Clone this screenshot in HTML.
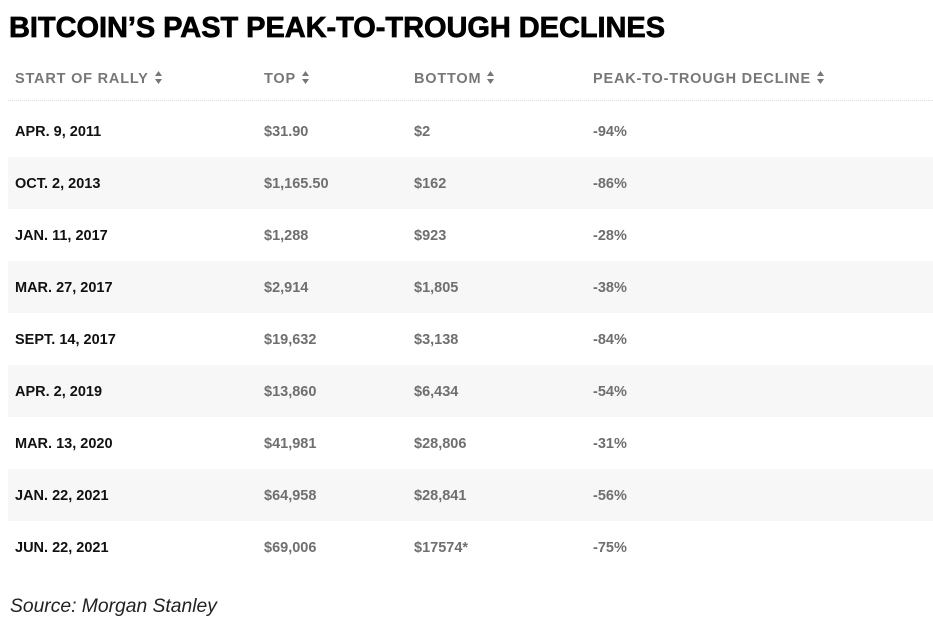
<!DOCTYPE html>
<html><head><meta charset="utf-8"><style>
body{margin:0;width:933px;height:629px;background:#fff;font-family:"Liberation Sans",sans-serif;position:relative;overflow:hidden}
h1{position:absolute;left:9px;top:10px;margin:0;font-size:29px;font-weight:900;letter-spacing:-0.05px;color:#000;line-height:36px;-webkit-text-stroke:0.7px #000}
.hd{position:absolute;top:70px;font-size:14.5px;font-weight:bold;color:#777;letter-spacing:0.8px;line-height:18px}
.ar{display:inline-block;margin-left:6px;vertical-align:-1px}
.hl{position:absolute;left:8px;width:925px;top:100px;border-top:1px dotted #ddd}
.row{position:absolute;left:8px;width:925px;height:52px}
.row.s{background:#f7f7f7}
.c{position:absolute;top:18px;font-size:14.5px;font-weight:bold;line-height:18px;color:#6f6f6f}
.c1{left:7px;color:#111}.c2{left:256px}.c3{left:406px}.c4{left:585px}
.src{position:absolute;left:10px;top:596px;font-size:19.3px;font-style:italic;color:#222}
</style></head><body>
<h1>BITCOIN’S PAST PEAK-TO-TROUGH DECLINES</h1>
<div class="hd" style="left:15px">START OF RALLY<svg class="ar" width="7" height="13" viewBox="0 0 7 13"><path d="M3.5 0L7 5H0Z M0 8H7L3.5 13Z" fill="#777"/></svg></div>
<div class="hd" style="left:264px">TOP<svg class="ar" width="7" height="13" viewBox="0 0 7 13"><path d="M3.5 0L7 5H0Z M0 8H7L3.5 13Z" fill="#777"/></svg></div>
<div class="hd" style="left:414px">BOTTOM<svg class="ar" width="7" height="13" viewBox="0 0 7 13"><path d="M3.5 0L7 5H0Z M0 8H7L3.5 13Z" fill="#777"/></svg></div>
<div class="hd" style="left:593px">PEAK-TO-TROUGH DECLINE<svg class="ar" width="7" height="13" viewBox="0 0 7 13"><path d="M3.5 0L7 5H0Z M0 8H7L3.5 13Z" fill="#777"/></svg></div>
<div class="hl"></div>
<div class="row" style="top:105px"><div class="c c1">APR. 9, 2011</div><div class="c c2">$31.90</div><div class="c c3">$2</div><div class="c c4">-94%</div></div>
<div class="row s" style="top:157px"><div class="c c1">OCT. 2, 2013</div><div class="c c2">$1,165.50</div><div class="c c3">$162</div><div class="c c4">-86%</div></div>
<div class="row" style="top:209px"><div class="c c1">JAN. 11, 2017</div><div class="c c2">$1,288</div><div class="c c3">$923</div><div class="c c4">-28%</div></div>
<div class="row s" style="top:261px"><div class="c c1">MAR. 27, 2017</div><div class="c c2">$2,914</div><div class="c c3">$1,805</div><div class="c c4">-38%</div></div>
<div class="row" style="top:313px"><div class="c c1">SEPT. 14, 2017</div><div class="c c2">$19,632</div><div class="c c3">$3,138</div><div class="c c4">-84%</div></div>
<div class="row s" style="top:365px"><div class="c c1">APR. 2, 2019</div><div class="c c2">$13,860</div><div class="c c3">$6,434</div><div class="c c4">-54%</div></div>
<div class="row" style="top:417px"><div class="c c1">MAR. 13, 2020</div><div class="c c2">$41,981</div><div class="c c3">$28,806</div><div class="c c4">-31%</div></div>
<div class="row s" style="top:469px"><div class="c c1">JAN. 22, 2021</div><div class="c c2">$64,958</div><div class="c c3">$28,841</div><div class="c c4">-56%</div></div>
<div class="row" style="top:521px"><div class="c c1">JUN. 22, 2021</div><div class="c c2">$69,006</div><div class="c c3">$17574*</div><div class="c c4">-75%</div></div>
<div class="src">Source: Morgan Stanley</div>
</body></html>
